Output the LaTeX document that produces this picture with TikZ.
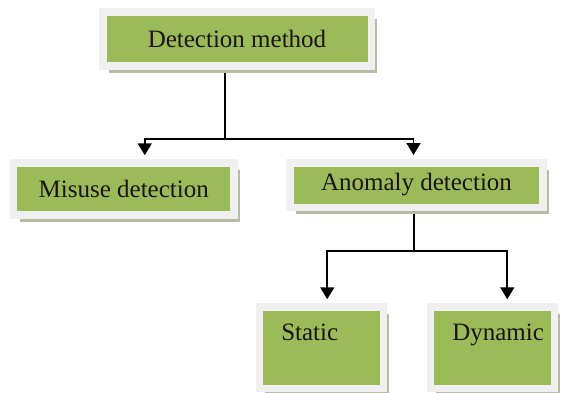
\documentclass[tikz,border=0pt]{standalone}
\usepackage{fontspec}
\setmainfont{Liberation Serif}
\usetikzlibrary{arrows.meta,shadows}
\pgfdeclarelayer{background}
\pgfsetlayers{background,main}
\definecolor{boxgreen}{HTML}{9BBB59}
\definecolor{framegray}{HTML}{F0F0F0}
\definecolor{shadowcol}{HTML}{B5BDA5}
\definecolor{textdark}{HTML}{1C1414}
\tikzset{
  box/.style={fill=boxgreen, draw=framegray, line width=7.5pt, inner sep=0pt,
    text=textdark, font=\fontsize{25}{30}\selectfont,
    drop shadow={shadow xshift=6pt, shadow yshift=-7pt, fill=shadowcol, opacity=1}},
  tallbox/.style={box, text width=80pt, align=left, inner xsep=22pt, inner ysep=0pt,
    text height=33pt, text depth=48.5pt},
  conn/.style={draw=black, line width=1.6pt},
  arr/.style={conn, -{Triangle[width=14pt,length=12pt]}, shorten >=4pt}
}
\begin{document}
\begin{tikzpicture}[x=1pt,y=-1pt]
\useasboundingbox (0,0) rectangle (561,392);
\node[box, minimum width=268.5pt, minimum height=54pt] (top) at (237,39) {Detection method};
\node[box, minimum width=220.5pt, minimum height=52pt] (mis) at (123.75,189) {Misuse detection};
\node[box, minimum width=253pt, minimum height=44.5pt] (ano) at (416.5,185) {Anomaly detection};
\node[tallbox, minimum width=123.5pt, minimum height=81.5pt] (sta) at (321.25,347.75) {Static};
\node[tallbox, minimum width=123.5pt, minimum height=81.5pt] (dyn) at (492.25,347.75) {Dynamic};
\coordinate (j1) at (225,139);
\coordinate (j2) at (414,251);
\begin{pgfonlayer}{background}
\draw[conn] ([xshift=-12pt]top.south) -- (j1);
\draw[arr] (j1) -| ([xshift=21pt]mis.north);
\draw[arr] (j1) -| ([xshift=-3pt]ano.north);
\draw[conn] ([xshift=-2.5pt]ano.south) -- (j2);
\draw[arr] (j2) -| ([xshift=6pt]sta.north);
\draw[arr] (j2) -| ([xshift=15pt]dyn.north);
\end{pgfonlayer}
\end{tikzpicture}
\end{document}
